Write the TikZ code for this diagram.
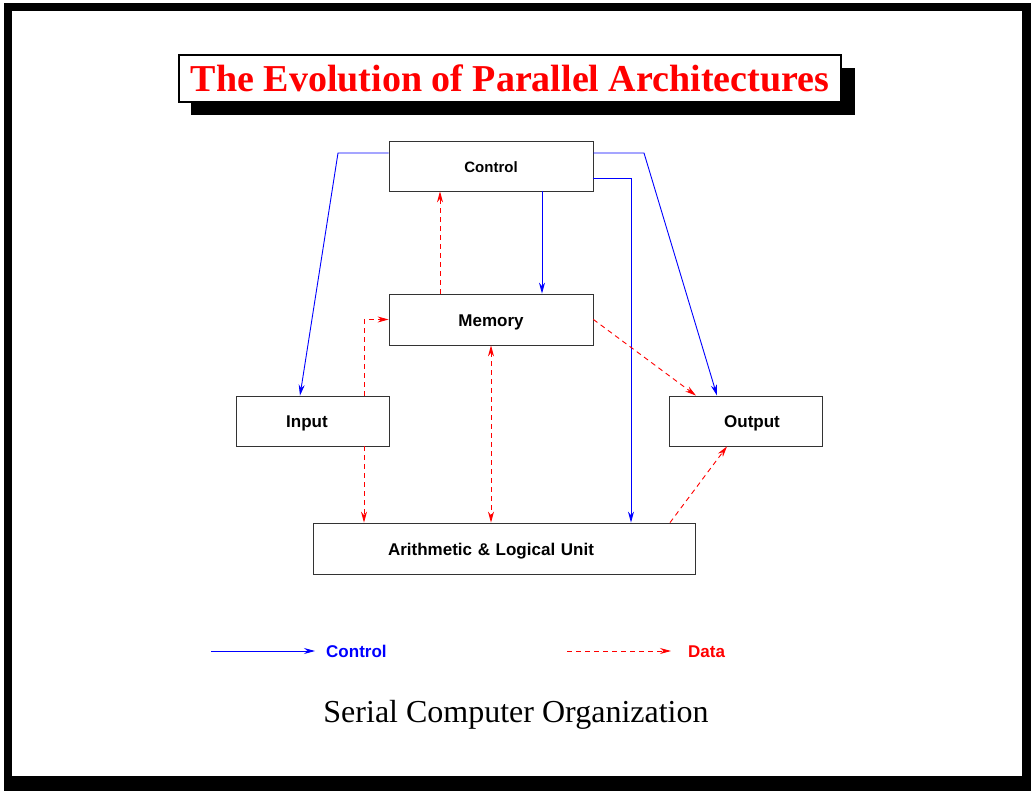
\documentclass[tikz,border=0pt]{standalone}
\usepackage{fontspec}
\setmainfont{Liberation Serif}
\setsansfont{Liberation Sans}
\usetikzlibrary{arrows.meta}
\begin{document}
\begin{tikzpicture}[x=1pt,y=-1pt,
  box/.style={draw=black!80,line width=0.8pt,inner sep=0pt,text height=13.2pt,text depth=0pt,font=\sffamily\bfseries\fontsize{17}{20}\selectfont},
  lbl/.style={inner sep=0pt,text height=13.2pt,text depth=0pt,font=\sffamily\bfseries\fontsize{17}{20}\selectfont},
  tip/.style={-{Stealth[length=11pt,width=6pt]}},
  ctl/.style={draw={rgb,255:red,0;green,0;blue,255},line width=0.9pt,tip},
  dat/.style={draw={rgb,255:red,255;green,0;blue,0},line width=0.9pt,dash pattern=on 5pt off 4pt,tip}]
\definecolor{pblue}{RGB}{0,0,255}
\definecolor{pred}{RGB}{255,0,0}
% page and frame
\fill[white] (0,0) rectangle (1031,791);
\useasboundingbox (0,0) rectangle (1031,791);
\fill[black] (4,3) rectangle (1031,791);
\fill[white] (12,11) rectangle (1022,776);
% title
\fill[black] (191,68) rectangle (855,115);
\node[draw=black,line width=2pt,fill=white,minimum width=662pt,minimum height=47pt,inner sep=0pt,
  text=pred,font=\bfseries\fontsize{38}{42}\selectfont] (title) at (510,78.5) {The Evolution of Parallel Architectures};
% boxes
\node[box,minimum width=204pt,minimum height=50pt,text height=12.6pt,font=\sffamily\bfseries\fontsize{15}{18}\selectfont] (ctrl) at (491,166) {Control};
\node[box,minimum width=204pt,minimum height=51pt] (mem) at (491,319.5) {Memory};
\node[box,minimum width=153pt,minimum height=50pt,text width=153pt,align=center] (input) at (312.5,421) {\hspace*{-11pt}Input};
\node[box,minimum width=153pt,minimum height=50pt,text width=153pt,align=center] (output) at (745.5,421) {\hspace*{13pt}Output};
\node[box,minimum width=382pt,minimum height=51pt,text width=382pt,align=center] (alu) at (504,548.5) {\hspace*{-26pt}Arithmetic \& Logical Unit};
% control connectors
\draw[ctl] ([yshift=13pt]ctrl.west) -- (338,153) -- ([xshift=-12.5pt]input.north);
\draw[ctl] ([xshift=51pt]ctrl.south) -- ([xshift=51pt]mem.north);
\draw[ctl] ([yshift=13pt]ctrl.east) -- (644,153) -- ([xshift=-28.5pt]output.north);
\draw[ctl] ([yshift=-12pt]ctrl.east) -- (631,178) -- ([xshift=127pt]alu.north);
% data connectors
\draw[dat] ([xshift=-51pt]mem.north) -- ([xshift=-51pt]ctrl.south);
\draw[dat] ([xshift=51.5pt]input.north) -- (364,319.5) -- (mem.west);
\draw[dat] ([xshift=51.5pt]input.south) -- ([xshift=-140pt]alu.north);
\draw[dat,{Stealth[length=11pt,width=6pt]}-{Stealth[length=11pt,width=6pt]}] (mem.south) -- ([xshift=-13pt]alu.north);
\draw[dat] (mem.east) -- ([xshift=-49.5pt]output.north);
\draw[dat] ([xshift=166pt]alu.north) -- ([xshift=-18.5pt]output.south);
% legend
\coordinate (lc1) at (211,651);
\coordinate (lc2) at (315,651);
\node[lbl,text=pblue,anchor=west] (lgc) at (326,651) {Control};
\draw[ctl] (lc1) -- (lc2);
\coordinate (ld1) at (567,651);
\coordinate (ld2) at (671,651);
\node[lbl,text=pred,anchor=west] (lgd) at (688,651) {Data};
\draw[dat] (ld1) -- (ld2);
% caption
\node[inner sep=0pt,font=\fontsize{32}{36}\selectfont] (cap) at (516,715) {Serial Computer Organization};
\end{tikzpicture}
\end{document}
